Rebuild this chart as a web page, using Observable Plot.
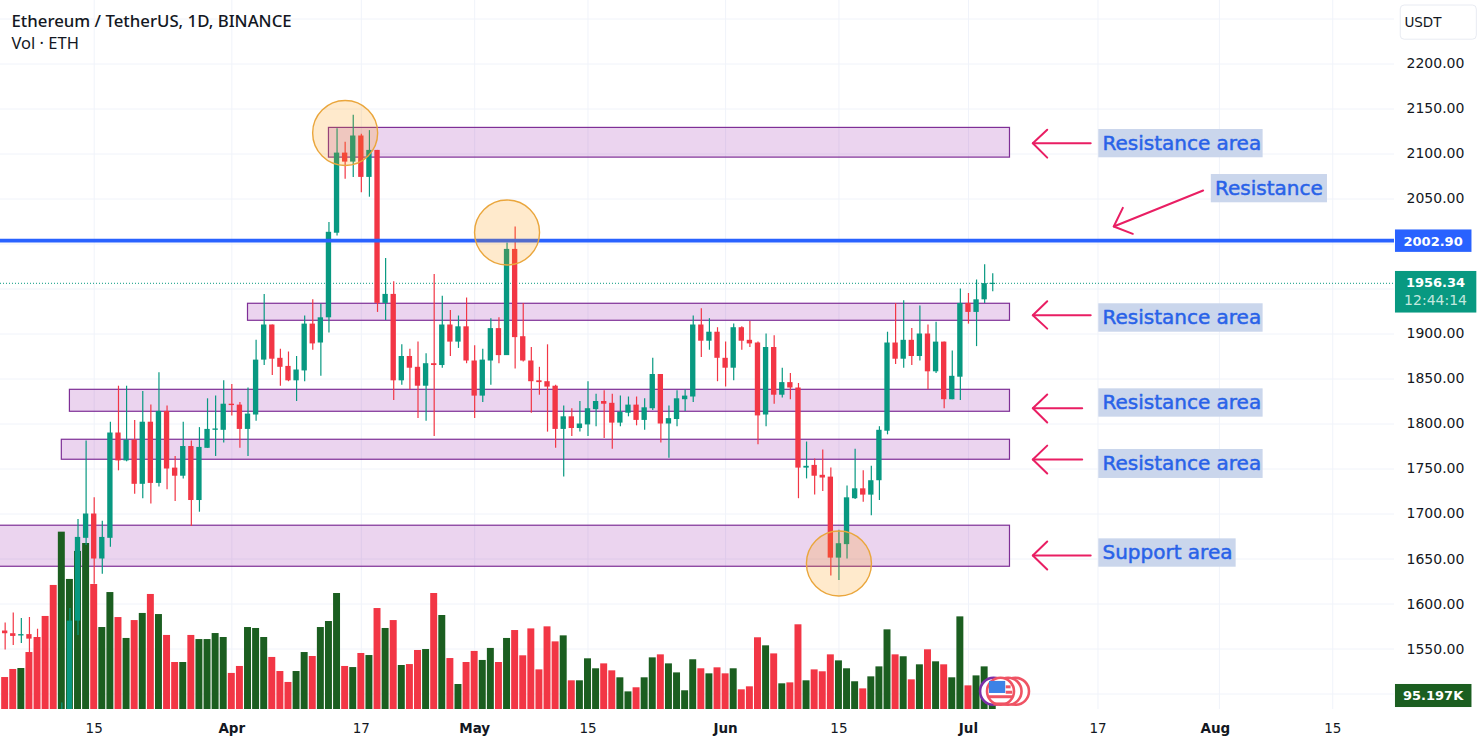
<!DOCTYPE html>
<html>
<head>
<meta charset="utf-8">
<script src="https://cdn.jsdelivr.net/npm/d3@7"></script>
<script src="https://cdn.jsdelivr.net/npm/@observablehq/plot@0.6"></script>
<style>html,body{margin:0;padding:0;background:#fff}svg{display:block}</style>
</head>
<body>
<div id="chart"></div>
<script>
const firstDay = "2023-03-04";
const opens = [1570,1567,1564.5,1566,1561,1534,1438,1429,1481,1581,1673,1700,1650,1673,1790,1759,1782,1733,1802,1734,1814,1751,1742,1775,1715,1773,1793,1793,
1822,1821,1794,1810,1871,1910,1873,1864,1848,1859,1911,1890,1918,2012,2101,2091,2120,2074,2104,1934,1944,1848,1875,1863,1842,1867,1865,1910,1891,1908,
1870,1831,1870,1906,1876,1994,1897,1870,1848,1847,1842,1794,1808,1795,1799,1816,1825,1823,1801,1812,1821,1804,1817,1855,1800,1805,1827,1830,1910,1892,1902,
1873,1862,1907,1893,1890,1810,1885,1832,1846,1840,1751,1754,1743,1741,1651,1666,1717,1728,1721,1737,1792,1890,1872,1893,1875,1900,1858,1891,1827,1852,
1934,1924,1938,1955];
const highs = [1579,1590,1584,1585,1572,1552,1444,1490,1595,1694,1781,1718,1692,1802,1842,1842,1804,1836,1821,1857,1820,1764,1802,1781,1796,1828,1831,1848,
1844,1824,1840,1893,1944,1910,1883,1880,1875,1920,1938,1933,2024,2128,2113,2143,2122,2126,2104,1984,1958,1888,1883,1891,1878,1966,1942,1926,1920,1940,
1887,1883,1917,1918,2001,2019,1934,1885,1863,1888,1843,1820,1817,1825,1847,1833,1837,1833,1831,1830,1830,1828,1873,1855,1820,1837,1838,1920,1928,1917,1907,
1891,1911,1908,1914,1891,1900,1898,1862,1856,1845,1780,1761,1771,1751,1682,1731,1772,1748,1753,1797,1902,1934,1937,1906,1931,1910,1913,1891,1881,1950,
1945,1960,1977,1967];
const lows = [1549,1554,1556,1545,1530,1372,1370,1410,1468,1565,1665,1622,1633,1663,1748,1758,1722,1717,1711,1730,1727,1714,1739,1686,1702,1773,1764,1779,
1809,1773,1764,1803,1865,1854,1842,1847,1825,1847,1882,1853,1901,2009,2072,2074,2057,2052,1924,1915,1826,1843,1838,1806,1803,1786,1862,1875,1884,1867,
1806,1824,1843,1867,1876,1861,1869,1812,1832,1791,1773,1741,1786,1791,1786,1797,1784,1772,1797,1808,1798,1793,1815,1779,1762,1797,1814,1824,1874,1882,1847,
1841,1848,1882,1885,1777,1797,1822,1829,1827,1717,1739,1721,1725,1631,1626,1650,1716,1713,1698,1715,1788,1866,1862,1865,1870,1838,1856,1817,1827,1826,
1911,1886,1934,1947];
const closes = [1567,1564,1566,1561,1534,1438,1429,1481,1581,1674,1700,1650,1674,1790,1759,1782,1733,1802,1734,1814,1750,1742,1775,1715,1774,1794,1794.5,1822,
1820.5,1794,1811,1871,1910,1872,1863,1848,1860,1911,1889,1918,2013,2101,2091,2120,2074,2104,1934,1944,1848,1875,1862,1842,1867,1865,1910,1891,1908,1870,
1831,1871,1906,1876,1994,1896,1870,1847,1846,1841,1794,1808,1795,1800,1817,1825,1822,1801,1813,1821,1804,1818,1855,1800,1806,1828,1831,1910,1892,1902,1873,
1862,1907,1892,1889,1809,1885,1832,1846,1840,1751,1753,1742,1740,1651,1667,1718,1728,1721,1737,1793,1890,1872,1893,1875,1900,1858,1891,1827,1853,1934,
1924,1938,1956,1956.34];
// Daily volume, thousands of ETH
const volumes = [234,293,300,417,527,681,908,1298,952,1157,1215,915,600,856,673,520,651,703,842,695,542,344,344,542,512,512,556,527,
264,315,600,593,527,381,278,198,278,417,388,600,644,849,315,307,410,395,739,593,651,322,329,432,439,849,688,373,183,344,
425,359,447,344,520,578,393,590,290,605,495,539,210,210,371,298,334,283,232,129,159,232,378,400,334,268,137,364,298,261,305,
261,298,144,166,525,466,407,188,195,620,210,290,276,400,356,298,203,151,239,312,583,400,386,217,327,437,349,327,232,678,
173,246,312,95.197];

const lastPrice = 1956.34, lastCountdown = "12:44:14", resistanceLevel = 2002.90, lastVolumeLabel = "95.197K";
const dayTicks = ["2023-03-15","2023-04-17","2023-05-15","2023-06-15","2023-07-17","2023-08-15"];
const monthTicks = ["2023-04-01","2023-05-01","2023-06-01","2023-07-01"];
const lastMonthTick = ["2023-08-01"];
const priceTicks = [2200,2150,2100,2050,1900,1850,1800,1750,1700,1650,1600,1550];
const gridPrices = [2250,2200,2150,2100,2050,2000,1950,1900,1850,1800,1750,1700,1650,1600,1550,1500];

// Zones: first day, price top, price bottom; all run to zoneEndDay (days after 15 March)
const zoneFrom = ["2023-04-13","2023-04-03","2023-03-12","2023-03-11","2023-03-03"];
const zoneEndDay = 113.13;
const zoneTop = [2129,1933.6,1838,1782.5,1687];
const zoneBottom = [2096,1914.7,1813.6,1760.3,1641.4];
const circleDays = ["2023-04-15","2023-05-05","2023-06-15"];
const circlePrices = [2123.3,2012.8,1645];

// Annotations, x expressed in days after 15 March
const labelTexts = ["Resistance area","Resistance","Resistance area","Resistance area","Resistance area","Support area"];
const labelFrom = [124.1,138,124.1,124.1,124.1,124.1];
const labelTo = [144.4,152.35,144.4,144.4,144.4,141.07];
const labelTop = [2127.2,2077.2,1933.6,1839.1,1771.7,1672.4];
const labelBottom = [2095.8,2045.8,1902,1807.6,1739.5,1640.9];
// Arrows: tail, tip, head ends as [day, price]
const arrowTails = [[123.1,2112],[136.99,2059.5],[123.1,1920.9],[122.05,1817.6],[122.05,1760.6],[123.1,1654]];
const arrowTips = [[115.95,2112],[125.95,2019.5],[115.95,1920.9],[115.95,1817.6],[115.95,1760.6],[115.95,1654]];
const arrowHeadA = [[117.73,2127],[127.07,2040.2],[117.73,1936.4],[117.73,1832.8],[117.73,1776],[117.73,1669.5]];
const arrowHeadB = [[117.73,2096],[128.3,2011.3],[117.73,1906],[117.73,1801.7],[117.73,1745],[117.73,1638.3]];

const UP = "#089981", DOWN = "#f23645", VOL_UP = "#1b5e20", BLUE = "#2962ff", PINK = "#e91e63", INK = "#131722", GRID = "#f0f3fa";
const FONT = "'DejaVu Sans', sans-serif";

if (![opens,highs,lows,closes,volumes].every(a => a.length === 123)) throw new Error("length " + [opens,highs,lows,closes,volumes].map(a=>a.length));

const DAY = 864e5, T15 = Date.UTC(2023,2,15);
const fromDays = d => new Date(T15 + d * DAY);
const day0 = Date.parse(firstDay + "T00:00Z");
const candles = opens.map((o,i) => ({
  t: new Date(day0 + i*DAY), t0: new Date(day0 + (i-0.33)*DAY), t1: new Date(day0 + (i+0.33)*DAY),
  v0: new Date(day0 + (i-0.43)*DAY), v1: new Date(day0 + (i+0.43)*DAY),
  o, h: highs[i], l: lows[i], c: closes[i], up: closes[i] >= o, vol: volumes[i]
}));
const yBottom = 1482.8;
const volY = v => yBottom + v * 0.1518;   // volume pane shares the vertical scale
const d = s => new Date(s + "T00:00Z");

const zones = zoneFrom.map((f,i)=>({x1:d(f),x2:fromDays(zoneEndDay),y1:zoneTop[i],y2:zoneBottom[i]}));
const circles = circleDays.map((c,i)=>({x:d(c),y:circlePrices[i]}));
const labels = labelTexts.map((text,i)=>({text,x1:fromDays(labelFrom[i]),x2:fromDays(labelTo[i]),y1:labelTop[i],y2:labelBottom[i],
  tx:fromDays(labelFrom[i]+0.45), ty:(labelTop[i]+labelBottom[i])/2}));
const arrowPts = [];
arrowTails.forEach((tail,i)=>{
  [[tail,arrowTips[i]],[arrowHeadA[i],arrowTips[i],arrowHeadB[i]]].forEach((pl,j)=>{
    pl.forEach(p=>arrowPts.push({id:i+"-"+j,x:fromDays(p[0]),y:p[1]}));
  });
});
const tags = [
  {x1:160.75,x2:170.2,y1:2015.6,y2:1990.7,fill:BLUE,rx:1},
  {x1:160.75,x2:170.8,y1:1969.5,y2:1923.3,fill:UP,rx:1},
  {x1:160.75,x2:170.2,y1:1510.6,y2:1485,fill:VOL_UP,rx:1}
].map(t=>({...t,x1:fromDays(t.x1),x2:fromDays(t.x2)}));
const tagBold = [
  {x:fromDays(165.4),y:2002.9,text:resistanceLevel.toFixed(2)},
  {x:fromDays(165.7),y:1956.6,text:lastPrice.toFixed(2)},
  {x:fromDays(165.4),y:1498,text:lastVolumeLabel}
];
const tagPlain = [{x:fromDays(165.7),y:1937.2,text:lastCountdown}];
// Currency badge beside the last bar
const badgeRings = [{x:113.81,s:"#ef5364"},{x:112.89,s:"#ef5364"},{x:111.1,s:"#7b2fa8"},{x:111.96,s:"#ef5364"}].map(b=>({...b,x:fromDays(b.x)}));
const badgeStripes = [[110.5,113.4,1497],[111.1,112.9,1489],[112.6,113.2,1508],[112.6,113.4,1502]];

const xTick = (s,w,dx)=>Plot.axisX(s.map(d),{anchor:"bottom",tickSize:0,tickPadding:14,fontSize:13.5,fontFamily:FONT,fontWeight:w,fill:INK,label:null,dx,
  tickFormat:t=>{const m=t.getUTCMonth(),dd=t.getUTCDate();return dd===1?["Jan","Feb","Mar","Apr","May","Jun","Jul","Aug"][m]:String(dd);}});

const chart = Plot.plot({
  width:1481, height:747, marginLeft:0, marginRight:87, marginTop:0, marginBottom:38,
  style:{background:"#fff",fontFamily:FONT},
  x:{type:"utc",domain:[fromDays(-11.575),fromDays(160.63)],range:[0,1394]},
  y:{type:"linear",domain:[2270.56,yBottom],range:[0,709]},
  marks:[
    Plot.ruleX([...dayTicks,...monthTicks,...lastMonthTick].map(d),{stroke:GRID,strokeWidth:1}),
    Plot.ruleY(gridPrices,{stroke:GRID,strokeWidth:1}),
    Plot.rect(zones,{x1:"x1",x2:"x2",y1:"y1",y2:"y2",fill:"#9c27b0",fillOpacity:0.2,stroke:"#7e2f96",strokeWidth:1.2,clip:true}),
    Plot.ruleY([lastPrice],{stroke:UP,strokeWidth:1,strokeDasharray:"1,2"}),
    Plot.rect(candles,{x1:"v0",x2:"v1",y1:()=>yBottom,y2:c=>volY(c.vol),fill:c=>c.up?VOL_UP:DOWN,clip:true}),
    Plot.ruleX(candles,{x:"t",y1:"l",y2:"h",stroke:c=>c.up?UP:DOWN,strokeWidth:1.2,clip:true}),
    Plot.rect(candles,{x1:"t0",x2:"t1",y1:"o",y2:"c",fill:c=>c.up?UP:DOWN,clip:true}),
    Plot.ruleY([resistanceLevel],{stroke:BLUE,strokeWidth:3.8,dy:-0.8}),
    Plot.dot(circles,{x:"x",y:"y",r:32.5,fill:"#ff9800",fillOpacity:0.2,stroke:"#eaa63c",strokeWidth:1.4}),
    Plot.line(arrowPts,{x:"x",y:"y",z:"id",stroke:PINK,strokeWidth:2,curve:"linear"}),
    Plot.rect(labels,{x1:"x1",x2:"x2",y1:"y1",y2:"y2",fill:"#cad6ec"}),
    Plot.text(labels,{x:"tx",y:"ty",text:"text",textAnchor:"start",fill:"#2962e8",stroke:"#2962e8",strokeWidth:0.5,fontSize:20,fontFamily:FONT}),
    // price axis and time axis
    Plot.axisY(priceTicks,{anchor:"right",tickSize:0,tickPadding:12,fontSize:14,fontFamily:FONT,fill:INK,label:null,tickFormat:v=>v.toFixed(2)}),
    xTick(dayTicks,"normal",0),
    xTick(monthTicks,"bold",0),
    xTick(lastMonthTick,"bold",-4),
    Plot.rect(tags,{x1:"x1",x2:"x2",y1:"y1",y2:"y2",fill:"fill",rx:"rx"}),
    Plot.text(tagBold,{x:"x",y:"y",text:"text",fill:"#fff",fontSize:13,fontWeight:"bold",fontFamily:FONT}),
    Plot.text(tagPlain,{x:"x",y:"y",text:"text",fill:"#c4e8df",fontSize:14,fontFamily:FONT}),
    Plot.rect([{x1:fromDays(161.4),x2:fromDays(170.8),y1:2265,y2:2227}],{x1:"x1",x2:"x2",y1:"y1",y2:"y2",fill:"#fff",stroke:"#e8ebf2",rx:4}),
    Plot.text(["USDT"],{x:fromDays(161.85),y:2246,text:t=>t,textAnchor:"start",fontSize:13.5,fontFamily:FONT,fill:INK}),
    // badge
    Plot.dot(badgeRings,{x:"x",y:()=>1503,r:13.5,fill:"#fff",stroke:"s",strokeWidth:2.6}),
    Plot.link(badgeStripes,{x1:b=>fromDays(b[0]),x2:b=>fromDays(b[1]),y1:b=>b[2],y2:b=>b[2],stroke:"#ef5364",strokeWidth:3,curve:"linear"}),
    Plot.rect([0],{x1:()=>fromDays(110.6),x2:()=>fromDays(112.6),y1:()=>1514,y2:()=>1500.6,fill:"#3d82e6"}),
    // header
    Plot.text(["Ethereum / TetherUS, 1D, BINANCE"],{frameAnchor:"top-left",dx:11,dy:15,text:t=>t,fontSize:16.8,fontWeight:"500",fontFamily:"'Noto Sans', sans-serif",fill:INK,textAnchor:"start"}),
    Plot.text(["Vol · ETH"],{frameAnchor:"top-left",dx:11,dy:37,text:t=>t,fontSize:16.5,fontFamily:"'Noto Sans', sans-serif",fill:INK,textAnchor:"start"})
  ]
});
document.getElementById("chart").append(chart);
</script>
</body>
</html>
